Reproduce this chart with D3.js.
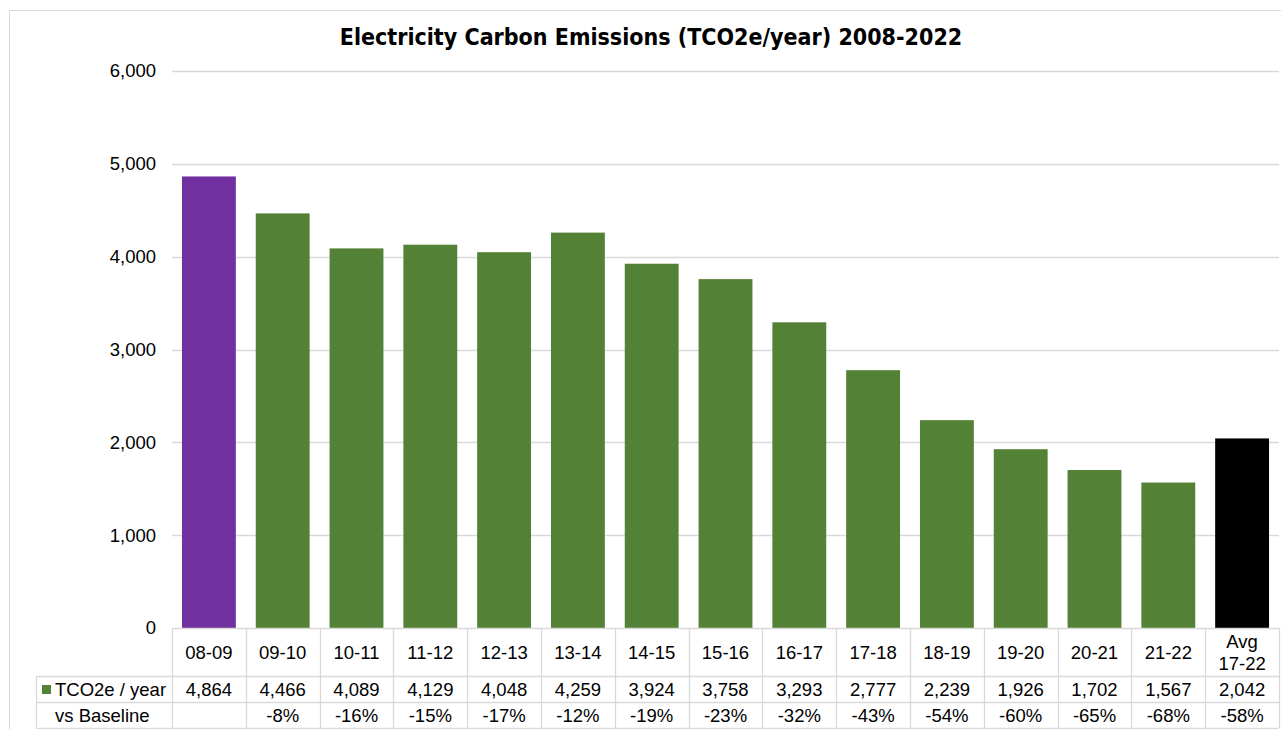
<!DOCTYPE html>
<html>
<head>
<meta charset="utf-8">
<script src="https://cdn.jsdelivr.net/npm/d3@7"></script>
<style>
  html, body { margin: 0; padding: 0; background: #fff; }
  svg { display: block; }
</style>
</head>
<body>
<svg id="chart" width="1281" height="729"></svg>
<script>
// Financial years and electricity emissions (tCO2e per year)
const categories = ["08-09","09-10","10-11","11-12","12-13","13-14","14-15","15-16","16-17","17-18","18-19","19-20","20-21","21-22","Avg 17-22"];
const emissions = [4864,4466,4089,4129,4048,4259,3924,3758,3293,2777,2239,1926,1702,1567,2042];
const vsBaseline = ["","-8%","-16%","-15%","-17%","-12%","-19%","-23%","-32%","-43%","-54%","-60%","-65%","-68%","-58%"];
const yTicks = [0,1000,2000,3000,4000,5000,6000];

const purple = "#7030A0", green = "#538135", black = "#000000";
const barColor = (d, i) => i === 0 ? purple : (i === categories.length - 1 ? black : green);

const svg = d3.select("#chart");
const plotLeft = 172, plotRight = 1279, plotTop = 71, plotBottom = 628;

// Outer chart frame
svg.append("rect")
  .attr("x", 9.5).attr("y", 10.5).attr("width", 1290).attr("height", 740)
  .attr("fill", "none").attr("stroke", "#d9d9d9");

svg.append("text")
  .attr("x", 651).attr("y", 45)
  .attr("text-anchor", "middle")
  .attr("font-family", "'DejaVu Sans Condensed', 'DejaVu Sans', sans-serif")
  .attr("font-weight", "bold")
  .attr("font-size", 23)
  .attr("fill", "#000")
  .text("Electricity Carbon Emissions (TCO2e/year) 2008-2022");

const x = d3.scaleBand().domain(categories).range([plotLeft, plotRight]).paddingInner(0.27).paddingOuter(0.135);
const band = d3.scaleBand().domain(categories).range([plotLeft, plotRight]);
const y = d3.scaleLinear().domain([0, 6000]).range([plotBottom, plotTop]);

// Gridlines
svg.append("g")
  .selectAll("line")
  .data(yTicks.filter(t => t > 0))
  .join("line")
  .attr("x1", plotLeft).attr("x2", plotRight)
  .attr("y1", d => Math.round(y(d)) + 0.5).attr("y2", d => Math.round(y(d)) + 0.5)
  .attr("stroke", "#d9d9d9").attr("stroke-width", 1.3);

const cellFont = "'Liberation Sans', Arial, sans-serif";
const cellSize = 18.5;

// Y axis labels
const yAxis = d3.axisLeft(y).tickValues(yTicks).tickFormat(d3.format(",")).tickSize(0).tickPadding(16);
const yg = svg.append("g").attr("transform", `translate(${plotLeft},0)`).call(yAxis);
yg.select(".domain").remove();
yg.selectAll("text")
  .attr("font-family", cellFont)
  .attr("font-size", cellSize)
  .attr("fill", "#000");

// Bars
svg.append("g")
  .selectAll("rect")
  .data(emissions)
  .join("rect")
  .attr("x", (d, i) => x(categories[i]))
  .attr("width", x.bandwidth())
  .attr("y", d => y(d))
  .attr("height", d => y(0) - y(d))
  .attr("fill", barColor);

// Data table under the plot
const tableStroke = "#d9d9d9";
const tableLeft = 36, row1Bottom = 676, row2Bottom = 702, row3Bottom = 728;
const tg = svg.append("g").attr("stroke", tableStroke).attr("stroke-width", 1.3);
// baseline of the plot / top of header
tg.append("line").attr("x1", plotLeft).attr("x2", plotRight).attr("y1", plotBottom + 0.5).attr("y2", plotBottom + 0.5);
[row1Bottom, row2Bottom, row3Bottom].forEach(yy => {
  tg.append("line").attr("x1", tableLeft).attr("x2", plotRight).attr("y1", yy + 0.5).attr("y2", yy + 0.5);
});
// column separators
const colEdges = categories.map(c => band(c)).concat([plotRight]);
tg.selectAll("line.col")
  .data(colEdges)
  .join("line")
  .attr("class", "col")
  .attr("x1", d => Math.round(d) + 0.5).attr("x2", d => Math.round(d) + 0.5)
  .attr("y1", plotBottom).attr("y2", row3Bottom);
tg.append("line").attr("x1", tableLeft + 0.5).attr("x2", tableLeft + 0.5).attr("y1", row1Bottom).attr("y2", row3Bottom);

const cx = c => band(c) + band.bandwidth() / 2;

// Header row: category labels (the average column wraps onto two lines)
const hdr = svg.append("g")
  .attr("font-family", cellFont).attr("font-size", cellSize).attr("fill", "#000")
  .attr("text-anchor", "middle");
categories.forEach(c => {
  const parts = c.startsWith("Avg") ? ["Avg", c.slice(4)] : [c];
  const t = hdr.append("text").attr("x", cx(c));
  if (parts.length === 1) {
    t.attr("y", 659).text(c);
  } else {
    t.append("tspan").attr("x", cx(c)).attr("y", 648).text(parts[0]);
    t.append("tspan").attr("x", cx(c)).attr("y", 670).text(parts[1]);
  }
});

// Values row
const fmt = d3.format(",");
svg.append("g")
  .attr("font-family", cellFont).attr("font-size", cellSize).attr("fill", "#000")
  .attr("text-anchor", "middle")
  .selectAll("text").data(emissions).join("text")
  .attr("x", (d, i) => cx(categories[i])).attr("y", 695.5)
  .text(d => fmt(d));

// Baseline comparison row
svg.append("g")
  .attr("font-family", cellFont).attr("font-size", cellSize).attr("fill", "#000")
  .attr("text-anchor", "middle")
  .selectAll("text").data(vsBaseline).join("text")
  .attr("x", (d, i) => cx(categories[i])).attr("y", 721.5)
  .text(d => d);

// Row headers with legend key
svg.append("rect").attr("x", 42).attr("y", 685).attr("width", 9).attr("height", 9).attr("fill", green);
svg.append("text").attr("x", 55).attr("y", 695.5)
  .attr("font-family", cellFont).attr("font-size", cellSize).attr("fill", "#000")
  .text("TCO2e / year");
svg.append("text").attr("x", 55).attr("y", 721.5)
  .attr("font-family", cellFont).attr("font-size", cellSize).attr("fill", "#000")
  .text("vs Baseline");
</script>
</body>
</html>
